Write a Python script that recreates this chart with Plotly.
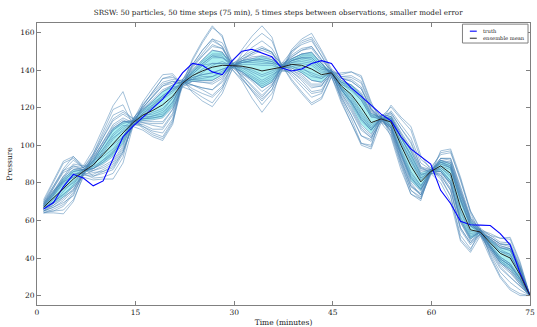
import numpy as np
import plotly.graph_objects as go

# time axis (minutes), 50 steps
time = np.linspace(1, 75, 50)

truth = [66, 69.5, 78, 84.5, 82.5, 78.4, 81, 92.5, 104.5, 110,
         115, 119.5, 124.5, 131, 138.5, 143.5, 142.5, 139, 137.5, 145,
         150, 151, 149, 147, 141, 139.5, 140.5, 143.5, 145, 143.5,
         136, 130.5, 126, 121.5, 116.5, 113, 104.5, 98, 94, 90,
         76, 69, 59.5, 57.7, 57.5, 57.3, 53, 47, 32, 20]

ens_mean = [67, 72, 77.5, 82, 86, 89.5, 95, 101, 106.5, 112,
            116, 118.5, 121.5, 126, 133, 137, 139.5, 141.5, 142.5, 142.3,
            142, 141, 139.5, 140.5, 141.5, 143, 142.5, 140.5, 137.5, 138.5,
            131.5, 127, 120, 112, 114, 112.3, 100, 89, 80.5, 86,
            89, 85, 67, 55, 53.8, 48, 42.5, 40, 31, 20]

# particle departures from the ensemble mean (read/estimated per time step)
dev01 = [2,5,8,6,1, -3,-6,-9,-7,2, 4,7,10,8,-1, -5,-9,-12,-8,1, 3,8,12,9,-2, -4,-7,-10,-6,2, 5,9,13,8,-1, -3,-8,-11,-6,1, 2,6,9,5,-2, -4,-6,-8,-5,0]
dev02 = [-3,-6,-9,-7,-2, 5,9,12,10,1, -4,-8,-12,-9,2, 6,11,15,10,-1, -5,-10,-14,-9,1, 4,8,11,7,-2, -6,-11,-15,-9,2, 5,9,13,8,-1, -4,-8,-11,-7,1, 3,5,7,4,0]
dev03 = [1,3,4,3,-1, 2,3,5,4,-2, 1,2,4,3,1, -2,-3,-5,-3,0, 2,4,5,3,-1, -1,-3,-4,-2,1, 2,3,5,4,-1, -2,-4,-5,-3,1, 1,3,4,2,-1, -2,-3,-4,-2,0]
dev04 = [-1,-2,-4,-3,1, -2,-4,-6,-5,1, 3,5,7,5,-1, 2,5,7,6,2, -3,-5,-7,-5,1, 3,6,8,6,-1, -2,-5,-7,-4,1, 2,4,6,4,-1, -3,-5,-7,-5,1, 2,3,5,3,0]
dev05 = [3,8,13,11,2, 6,12,18,15,-1, -6,-12,-17,-13,1, 8,15,21,16,-2, 7,14,20,15,1, -8,-14,-18,-12,-2, -7,-13,-19,-12,1, 8,14,19,12,2, 6,11,15,9,-1, -6,-10,-13,-8,0]
dev06 = [-2,-5,-8,-9,-1, -7,-12,-16,-13,2, 5,10,14,11,-2, -8,-14,-19,-13,1, -6,-12,-18,-13,-2, 7,13,17,12,1, 6,12,17,11,-2, -7,-11,-15,-10,1, -6,-12,-17,-11,2, 4,8,11,7,0]
dev07 = [0,2,3,2,0, -1,2,3,1,-1, 0,-2,-3,-1,0, 1,3,2,1,1, 0,-2,-3,-2,0, 1,2,3,2,0, -1,-2,-3,-2,0, 1,2,3,2,0, -1,-2,-3,-2,0, 1,2,2,1,0]
dev08 = [1,4,6,5,2, 3,7,10,8,0, 4,7,10,7,2, 3,6,9,7,-1, 4,7,11,8,2, 3,6,9,6,0, -4,-7,-10,-7,2, 3,6,9,7,0, 3,6,8,6,1, -3,-5,-7,-4,0]
dev09 = [-1,-4,-6,-5,-2, -3,-7,-10,-8,-1, -4,-7,-10,-7,-2, -3,-6,-9,-7,1, -4,-7,-11,-8,-2, -3,-6,-9,-6,0, 4,7,10,7,-2, -3,-6,-9,-7,0, -3,-6,-8,-6,-1, 3,5,7,4,0]
dev10 = [2,6,10,12,3, 8,14,20,22,2, -7,-13,-18,-14,-1, 9,16,22,15,2, 9,17,24,17,-1, 8,14,19,13,2, -8,-15,-20,-14,-2, 9,15,21,14,1, 7,12,14,10,2, -7,-12,-16,-10,0]
dev11 = [-2,-7,-12,-11,-3, -8,-13,-19,-16,-2, -8,-14,-19,-15,2, -9,-16,-21,-15,-2, -8,-16,-22,-16,1, -9,-15,-19,-13,-2, -9,-15,-19,-13,2, -8,-13,-15,-9,-1, -9,-15,-18,-12,-2, -8,-13,-17,-11,0]
dev12 = [1,1,2,1,1, 2,1,-1,-2,1, 3,4,5,4,0, -2,-1,1,2,0, 2,3,4,3,1, -1,-2,-2,-1,0, 1,2,4,3,1, -2,-3,-4,-2,0, 2,3,4,2,0, -1,-2,-3,-2,0]
dev13 = [-1,1,3,4,1, 4,6,8,6,1, -3,-5,-7,-6,-1, 5,8,11,9,1, -4,-6,-9,-7,1, 5,9,12,8,1, 4,7,10,7,0, -5,-8,-11,-7,-1, 4,8,11,7,1, 2,4,5,3,0]
dev14 = [0,-3,-5,-6,-1, -5,-8,-11,-9,-2, 6,9,12,9,1, -5,-9,-12,-9,-1, 5,9,13,9,-1, -5,-10,-13,-9,-1, -4,-8,-11,-8,-1, 5,9,12,8,1, -5,-9,-12,-8,-1, -3,-5,-7,-5,0]
dev15 = [4,9,14,12,2, -6,-10,-14,-11,1, 7,12,16,12,-1, 6,11,15,12,2, -7,-12,-16,-11,-1, 6,12,16,10,-1, 7,12,16,10,1, -6,-10,-13,-8,-2, 8,13,16,10,1, 5,8,10,6,0]
dev16 = [-3,-7,-10,-8,-1, 6,11,15,12,2, -6,-11,-15,-12,1, -7,-12,-16,-12,-2, -7,-11,-15,-11,2, 7,11,15,10,1, -6,-11,-15,-10,-1, 6,11,15,10,1, -7,-12,-15,-10,-1, -5,-8,-10,-6,0]
dev17 = [1,2,5,7,2, 2,5,7,6,1, -2,-4,-6,-4,1, 2,4,6,5,-1, 3,5,6,4,0, -2,-4,-6,-4,0, 3,5,7,5,1, -3,-5,-6,-4,0, 2,4,5,3,0, 2,3,4,2,0]
dev18 = [-2,-3,-2,-1,0, -2,-4,-5,-3,0, -1,-3,-4,-3,0, -2,-4,-5,-4,0, -1,-3,-5,-3,-1, 2,4,5,3,0, -2,-4,-5,-3,0, 2,4,5,3,1, -2,-4,-5,-3,0, -2,-3,-4,-2,0]
dev19 = [3,6,9,7,1, -4,-9,-13,-10,-1, 5,10,14,10,1, -5,-10,-15,-11,1, 5,11,16,11,1, -6,-11,-15,-10,1, 5,10,14,9,1, -5,-9,-13,-9,0, 4,8,10,6,-1, 3,5,6,4,0]
dev20 = [-1,-1,0,2,1, 1,3,4,3,1, 2,5,7,6,1, 1,3,5,4,1, -2,-4,-6,-4,1, 2,4,6,4,1, -2,-4,-6,-4,0, 2,4,6,4,0, 1,3,4,3,0, -1,-2,-3,-1,0]
dev21 = [2,3,6,8,3, -1,-3,-5,-4,0, 1,3,4,3,-1, -1,-2,-3,-2,0, 3,6,8,5,0, 1,3,4,3,1, -1,-3,-4,-3,0, 1,2,3,2,0, 3,5,6,4,1, -2,-4,-6,-3,0]
dev22 = [-3,-8,-14,-12,-2, -6,-9,-12,-10,-1, -5,-10,-13,-10,0, 4,8,12,9,0, -5,-9,-13,-9,0, -4,-8,-12,-8,0, -5,-9,-12,-8,-1, -4,-7,-10,-7,-1, -5,-9,-11,-7,-1, -4,-7,-10,-6,0]
dev23 = [1,5,9,10,2, 5,9,13,11,2, 4,8,11,8,0, 5,9,14,10,1, 4,8,12,9,1, 4,8,12,8,1, 4,8,11,7,1, 4,7,10,7,1, 4,7,9,6,1, 4,6,8,5,0]
dev24 = [0,0,-1,-2,-1, 0,1,2,2,0, -1,-1,-2,-1,0, 0,1,2,1,0, -1,-1,-2,-1,0, 0,1,2,1,0, -1,-1,-2,-1,0, 0,1,2,1,0, -1,-1,-2,-1,0, 0,1,1,1,0]
dev25 = [-2,-4,-5,-4,-1, 3,5,8,6,0, 2,3,5,4,-1, -3,-6,-8,-6,-1, 2,4,7,5,1, -3,-5,-8,-5,-1, 2,5,7,5,0, -3,-5,-7,-4,-1, 2,4,7,4,-1, -3,-5,-6,-4,0]
dev26 = [2,4,3,1,0, 4,7,9,7,-1, -3,-6,-9,-7,-1, 3,6,9,7,0, -3,-6,-9,-7,0, 3,6,9,6,-1, -3,-6,-9,-6,0, 3,6,8,6,0, -3,-6,-8,-5,0, 2,4,5,3,0]
dev27 = [-1,-2,-3,-4,-2, 1,-1,-3,-2,1, 0,2,3,2,0, -1,-2,-3,-2,0, 1,2,3,2,-1, 0,-1,-3,-2,0, 1,3,4,3,0, -1,-2,-3,-2,0, 0,2,3,2,1, 1,1,2,1,0]
dev28 = [1,3,5,4,1, -2,-5,-7,-6,-1, -2,-3,-5,-3,0, 2,4,6,4,0, 2,4,6,4,0, -2,-4,-6,-4,0, 2,4,6,4,1, -2,-4,-6,-4,0, -2,-4,-6,-4,0, 1,3,4,2,0]
dev29 = [-2,-5,-7,-6,0, 2,5,7,5,1, 3,6,8,6,1, -2,-5,-7,-5,-1, -3,-6,-8,-6,0, 2,5,7,5,0, 3,5,8,6,0, -3,-5,-8,-5,0, 3,5,7,5,0, -2,-4,-5,-3,0]
dev30 = [0,2,4,5,1, -2,-3,-4,-3,0, -2,-4,-6,-5,0, -3,-5,-7,-5,0, 3,5,8,6,0, 2,4,6,4,0, -2,-4,-6,-4,0, 3,5,8,5,1, -3,-5,-7,-4,0, -2,-3,-4,-2,0]

devs = [dev01, dev02, dev03, dev04, dev05, dev06, dev07, dev08, dev09, dev10,
        dev11, dev12, dev13, dev14, dev15, dev16, dev17, dev18, dev19, dev20,
        dev21, dev22, dev23, dev24, dev25, dev26, dev27, dev28, dev29, dev30]

mean_arr = np.array(ens_mean, dtype=float)
particles = np.array([mean_arr + np.array(d, dtype=float) for d in devs])
band_lo = np.percentile(particles, 28, axis=0)
band_hi = np.percentile(particles, 72, axis=0)

FONT = "DejaVu Serif"
TXT = "#222222"
fig = go.Figure()

# cyan band
fig.add_trace(go.Scatter(x=time, y=band_lo, mode="lines", line=dict(width=0),
                         hoverinfo="skip", showlegend=False))
fig.add_trace(go.Scatter(x=time, y=band_hi, mode="lines", line=dict(width=0),
                         fill="tonexty", fillcolor="rgba(90,228,228,0.5)",
                         hoverinfo="skip", showlegend=False))

for p in particles:
    fig.add_trace(go.Scatter(x=time, y=p, mode="lines",
                             line=dict(color="rgba(70,130,180,0.5)", width=1),
                             showlegend=False, hoverinfo="skip"))

fig.add_trace(go.Scatter(x=time, y=truth, mode="lines", name="truth",
                         line=dict(color="#0000ff", width=1.1), showlegend=False))
fig.add_trace(go.Scatter(x=time, y=ens_mean, mode="lines", name="ensemble mean",
                         line=dict(color="#222222", width=1), showlegend=False))

axis_common = dict(showgrid=False, zeroline=False, showline=True, mirror="allticks",
                   linecolor="#808080", linewidth=1, ticks="inside", ticklen=4,
                   tickcolor="#808080", ticklabeloverflow="allow",
                   tickfont=dict(family=FONT, size=7.5, color=TXT))

fig.update_xaxes(range=[0, 75], tickvals=[0, 15, 30, 45, 60, 75],
                 title=dict(text="Time (minutes)", font=dict(family=FONT, size=7.5, color=TXT), standoff=3),
                 **axis_common)
fig.update_yaxes(range=[15, 165], tickvals=[20, 40, 60, 80, 100, 120, 140, 160],
                 title=dict(text="Pressure", font=dict(family=FONT, size=7.5, color=TXT), standoff=6),
                 **axis_common)

# manual legend box
fig.add_shape(type="rect", xref="paper", yref="paper", x0=0.863, x1=0.996, y0=0.929, y1=0.996,
              line=dict(color="#808080", width=1), fillcolor="white", layer="above")
fig.add_shape(type="line", xref="paper", yref="paper", x0=0.878, x1=0.892, y0=0.971, y1=0.971,
              line=dict(color="#0000ff", width=1.1), layer="above")
fig.add_shape(type="line", xref="paper", yref="paper", x0=0.878, x1=0.892, y0=0.946, y1=0.946,
              line=dict(color="#222222", width=1), layer="above")
fig.add_annotation(xref="paper", yref="paper", x=0.9, y=0.971, text="truth", showarrow=False,
                   xanchor="left", yanchor="middle", font=dict(family=FONT, size=5.2, color=TXT))
fig.add_annotation(xref="paper", yref="paper", x=0.9, y=0.946, text="ensemble mean", showarrow=False,
                   xanchor="left", yanchor="middle", font=dict(family=FONT, size=5.2, color=TXT))

fig.update_layout(
    width=537, height=327,
    margin=dict(l=37, r=2, t=23, b=22),
    paper_bgcolor="white", plot_bgcolor="white",
    title=dict(text="SRSW: 50 particles, 50 time steps (75 min), 5 times steps between observations, smaller model error",
               font=dict(family=FONT, size=7.2, color=TXT), x=0.518, xanchor="center", y=0.963, yanchor="middle"),
    showlegend=False,
)

fig.write_html("out.html")
